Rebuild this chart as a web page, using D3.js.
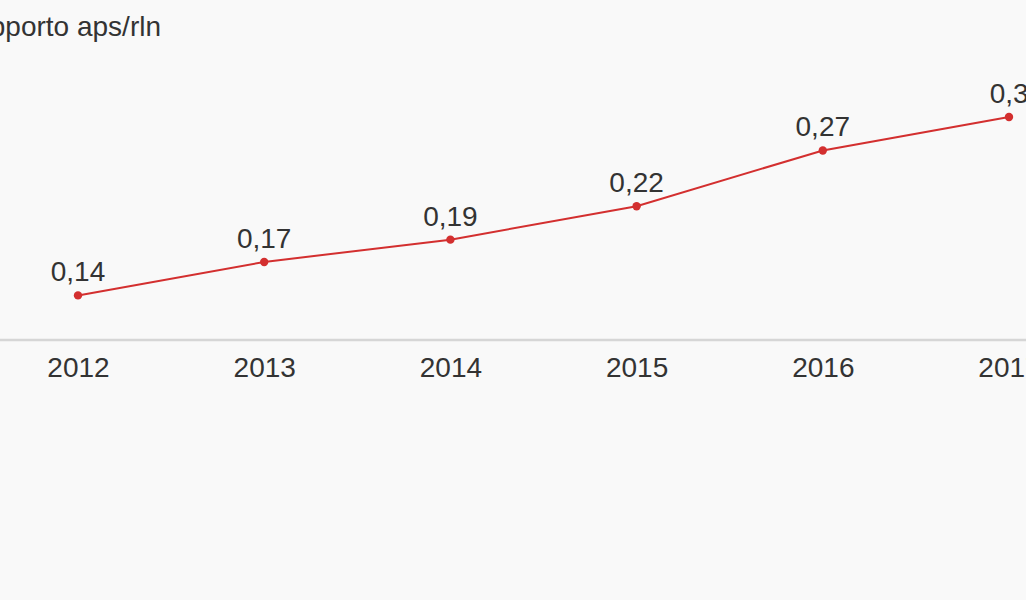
<!DOCTYPE html>
<html><head><meta charset="utf-8">
<script src="https://cdn.jsdelivr.net/npm/d3@7"></script>
<style>
html,body{margin:0;padding:0;background:#f9f9f9;overflow:hidden;}
svg{display:block;font-family:"Liberation Sans",Arial,sans-serif;}
</style></head>
<body>
<svg id="chart" width="1026" height="600"></svg>
<script>
const title = "Rapporto aps/rln";
const years = ["2012","2013","2014","2015","2016","2017"];
const values = [0.14, 0.17, 0.19, 0.22, 0.27, 0.30];
const fmt = v => d3.format(".2f")(v).replace(".", ",");

const svg = d3.select("#chart");
svg.append("rect").attr("width",1026).attr("height",600).attr("fill","#f9f9f9");

const x = d3.scalePoint().domain(years).range([78, 1009]);
const y = d3.scaleLinear().domain([0.10, 0.30]).range([340, 117]);

svg.append("text").attr("x", -46).attr("y", 36)
  .attr("font-size", 28).attr("fill", "#333").text(title);

// axis baseline
svg.append("line").attr("x1",0).attr("x2",1026).attr("y1",340).attr("y2",340)
  .attr("stroke","#d6d6d6").attr("stroke-width",2.5);

const xAxis = d3.axisBottom(x).tickSize(0).tickPadding(0);
const gx = svg.append("g").attr("transform","translate(0,340)").call(xAxis);
gx.select(".domain").remove();
gx.selectAll("text").attr("font-size",28).attr("fill","#333")
  .attr("font-family","Liberation Sans, Arial, sans-serif")
  .attr("dy", null).attr("y", 37);

const data = years.map((d,i)=>({year:d, value:values[i]}));
svg.append("path").datum(data)
  .attr("fill","none").attr("stroke","#d32f2f").attr("stroke-width",2)
  .attr("d", d3.line().x(d=>x(d.year)).y(d=>y(d.value)));

svg.selectAll("circle.pt").data(data).join("circle").attr("class","pt")
  .attr("cx",d=>x(d.year)).attr("cy",d=>y(d.value)).attr("r",4.2).attr("fill","#d32f2f");

const last = data.length - 1;
svg.selectAll("text.lbl").data(data).join("text").attr("class","lbl")
  .attr("x",d=>x(d.year)).attr("y",d=>y(d.value)-14)
  .attr("dx",(d,i)=> i===last ? 8 : 0)
  .attr("text-anchor","middle").attr("font-size",28).attr("fill","#333")
  .text(d=>fmt(d.value));
</script>
</body></html>
